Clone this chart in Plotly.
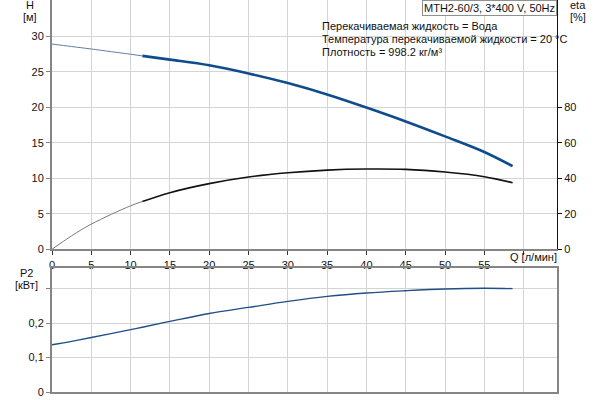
import plotly.graph_objects as go

# ---- data ----
Q = [0, 2.5, 5, 10, 11.5, 15, 20, 25, 30, 35, 40, 45, 50, 55, 58.6]
H = [28.9, 28.55, 28.2, 27.46, 27.23, 26.7, 25.9, 24.75, 23.4, 21.8, 19.96, 18.0, 15.9, 13.7, 11.7]
ETA = [0, 7.6, 14.2, 24.5, 26.9, 31.9, 37.0, 40.7, 43.1, 44.6, 45.2, 45.0, 43.5, 40.9, 37.5]
P2 = [0.137, 0.147, 0.158, 0.181, 0.188, 0.205, 0.228, 0.2455, 0.263, 0.2776, 0.2875, 0.294, 0.299, 0.301, 0.300]
SPLIT = 4  # index where operating range (thick line) starts

Q_TICKS = [0, 5, 10, 15, 20, 25, 30, 35, 40, 45, 50, 55, 60]
Q_LABELS = ["0", "5", "10", "15", "20", "25", "30", "35", "40", "45", "50", "55", ""]
H_TICKS = [0, 5, 10, 15, 20, 25, 30]
ETA_TICKS = [0, 20, 40, 60, 80]
P_TICKS = [0, 0.1, 0.2, 0.3]
P_LABELS = ["0", "0,1", "0,2", ""]

FONT = "Liberation Sans, Arial, sans-serif"
GRID = "#d4d4d4"
AXIS = "#858585"

W, HGT = 600, 400
ML, MR, MT, MB = 52, 43, 0, 8
PW = W - ML - MR
PH = HGT - MT - MB


def px(x):
    return (x - ML) / PW


def py(y):
    return (HGT - MB - y) / PH


fig = go.Figure()
fig.add_trace(go.Scatter(x=Q[:SPLIT + 1], y=H[:SPLIT + 1], mode="lines", line=dict(color="#5f7fa6", width=1, shape="spline"),
                         xaxis="x", yaxis="y", hoverinfo="skip"))
fig.add_trace(go.Scatter(x=Q[SPLIT:], y=H[SPLIT:], mode="lines", line=dict(color="#0e4c8c", width=2.6, shape="spline"),
                         xaxis="x", yaxis="y"))
fig.add_trace(go.Scatter(x=Q[:SPLIT + 1], y=ETA[:SPLIT + 1], mode="lines", line=dict(color="#7a7a7a", width=1, shape="spline"),
                         xaxis="x", yaxis="y3", hoverinfo="skip"))
fig.add_trace(go.Scatter(x=Q[SPLIT:], y=ETA[SPLIT:], mode="lines", line=dict(color="#111111", width=1.6, shape="spline"),
                         xaxis="x", yaxis="y3"))
fig.add_trace(go.Scatter(x=Q, y=P2, mode="lines", line=dict(color="#1f4f86", width=1.4, shape="spline"),
                         xaxis="x2", yaxis="y2"))

top_dom = [py(249.3), 1]
bot_dom = [0, py(268.3)]
xr = [0, 64.25]

fig.update_layout(
    width=W, height=HGT, margin=dict(l=ML, r=MR, t=MT, b=MB),
    paper_bgcolor="white", plot_bgcolor="white", showlegend=False,
    font=dict(family=FONT, size=11, color="#111"),
    xaxis=dict(domain=[0, 1], range=xr, anchor="y", tickvals=Q_TICKS, ticktext=Q_LABELS,
               showgrid=True, gridcolor=GRID, gridwidth=1, zeroline=False,
               showline=True, linecolor=AXIS, linewidth=2, ticks="outside", ticklen=4,
               tickcolor="#333", tickfont=dict(size=11)),
    yaxis=dict(domain=top_dom, range=[0, 35.1], anchor="x", tickvals=H_TICKS,
               showgrid=True, gridcolor=GRID, gridwidth=1, zeroline=False,
               showline=True, linecolor=AXIS, linewidth=2, ticks="outside", ticklen=4,
               tickcolor=AXIS, tickfont=dict(size=11)),
    yaxis3=dict(range=[0, 140.4], overlaying="y", side="right", anchor="x", tickvals=ETA_TICKS,
                showgrid=False, zeroline=False, showline=True, linecolor="#111", linewidth=1,
                ticks="outside", ticklen=4, tickcolor="#111", tickfont=dict(size=11)),
    xaxis2=dict(domain=[0, 1], range=xr, anchor="y2", tickvals=Q_TICKS, showticklabels=False,
                showgrid=True, gridcolor=GRID, gridwidth=1, zeroline=False,
                showline=True, linecolor=AXIS, linewidth=1.5, mirror=True, ticks=""),
    yaxis2=dict(domain=bot_dom, range=[0, 0.359], anchor="x2", tickvals=P_TICKS, ticktext=P_LABELS,
                showgrid=True, gridcolor=GRID, gridwidth=1, zeroline=False,
                showline=True, linecolor=AXIS, linewidth=2, mirror=True, ticks="outside", ticklen=4,
                tickcolor=AXIS, tickfont=dict(size=11)),
)

ann = []


def label(text, x, y, xanchor="center", **kw):
    ann.append(dict(text=text, x=px(x), y=py(y), xref="paper", yref="paper", showarrow=False,
                    xanchor=xanchor, yanchor="middle", font=dict(family=FONT, size=11, color="#111"), **kw))


label("H", 30, 5)
label("[м]", 30, 17)
label("eta", 578, 5)
label("[%]", 578, 17)
label("P2", 26, 273)
label("[кВт]", 26, 285)
label("Q [л/мин]", 533, 257)
label("Перекачиваемая жидкость = Вода", 320, 26, xanchor="left")
label("Температура перекачиваемой жидкости = 20 °C", 320, 39, xanchor="left")
label("Плотность = 998.2 кг/м³", 320, 52, xanchor="left")
ann.append(dict(text="MTH2-60/3, 3*400 V, 50Hz", x=1, y=1, xref="paper", yref="paper", showarrow=False,
                xanchor="right", yanchor="top", bgcolor="white", bordercolor="#909090", borderwidth=1,
                borderpad=1, font=dict(family=FONT, size=11, color="#111")))
fig.update_layout(annotations=ann)

fig.write_html("out.html", config={"displayModeBar": False},
               post_script="document.body.style.margin='0';document.body.style.padding='0';")
